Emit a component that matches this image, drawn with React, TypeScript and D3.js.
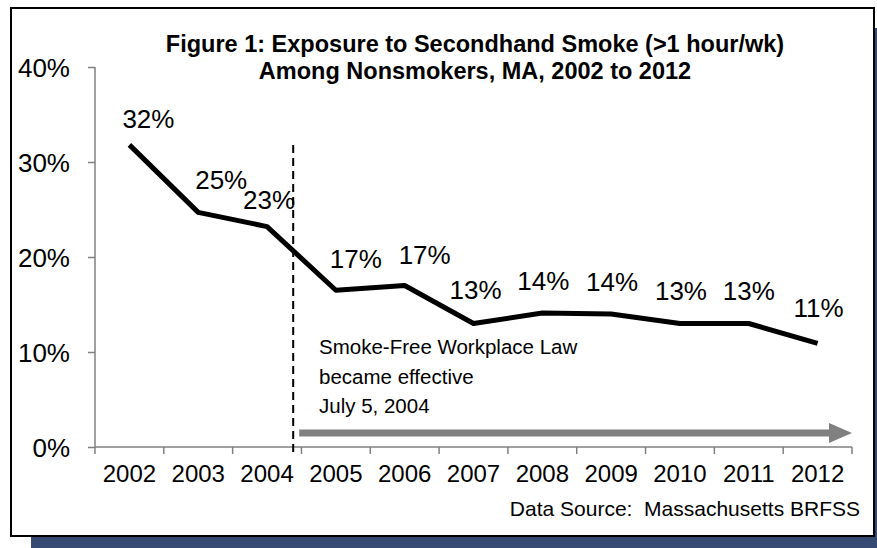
import React, { useEffect, useRef } from 'react';
import { select, scaleBand, scaleLinear, axisLeft, axisBottom, line, curveLinear } from 'd3';

const years = ['2002', '2003', '2004', '2005', '2006', '2007', '2008', '2009', '2010', '2011', '2012'];
const exposure = [31.8, 24.7, 23.2, 16.5, 17.0, 13.0, 14.1, 14.0, 13.0, 13.0, 10.9];
const pctTicks = [0, 10, 20, 30, 40];
const titleLines = ['Figure 1: Exposure to Secondhand Smoke (>1 hour/wk)', 'Among Nonsmokers, MA, 2002 to 2012'];
const noteLines = ['Smoke-Free Workplace Law', 'became effective', 'July 5, 2004'];
const sourceText = 'Data Source:  Massachusetts BRFSS';
const lawYear = '2004';

// label nudges (dx, dy) so the labels sit like in the excel original
const labelShift = [[19, -17], [23, -23], [2, -18], [20, -22], [20, -22], [2, -25], [1, -23], [1, -23], [1, -24], [0, -24], [1, -26]];

const W = 877;
const H = 548;
const FONT = '"Liberation Sans", Arial, sans-serif';

function App() {
  const svgRef = useRef<SVGSVGElement>(null);

  const x = scaleBand<string>().domain(years).range([95, 852]);
  const y = scaleLinear().domain([0, 40]).range([447, 67]);
  const lawX = (x(lawYear) as number) + x.bandwidth() * 0.88;

  useEffect(() => {
    const svg = select(svgRef.current);

    const yAxis = axisLeft(y).tickValues(pctTicks).tickSize(7).tickPadding(18).tickFormat((d) => d + '%');
    const gy = svg.select<SVGGElement>('.y-axis').attr('transform', 'translate(95,0)').call(yAxis);
    gy.select('.domain').attr('stroke', '#808080').attr('stroke-width', 1.5).attr('d', `M0,${y(0)}V${y(40)}`);
    gy.selectAll('.tick line').attr('stroke', '#808080').attr('stroke-width', 1.5);
    gy.selectAll('.tick text')
      .attr('font-family', FONT).attr('font-size', 26).attr('fill', '#000').attr('dy', '0.36em');

    const xAxis = axisBottom(x).tickSize(0).tickPadding(18);
    const gx = svg.select<SVGGElement>('.x-axis').attr('transform', `translate(0,${y(0)})`).call(xAxis);
    gx.select('.domain').attr('stroke', '#808080').attr('stroke-width', 1.5).attr('d', `M95,0H852`);
    gx.selectAll('.tick text').attr('font-family', FONT).attr('font-size', 24).attr('fill', '#000');
    gx.selectAll('.bound')
      .data([...years.map((d) => x(d) as number), 852])
      .join('line')
      .attr('class', 'bound')
      .attr('x1', (d) => d).attr('x2', (d) => d)
      .attr('y1', 0).attr('y2', 7)
      .attr('stroke', '#808080').attr('stroke-width', 1.5);

    const path = line<number>()
      .x((_, i) => (x(years[i]) as number) + x.bandwidth() / 2)
      .y((d) => y(d))
      .curve(curveLinear);
    svg.select('.series')
      .selectAll('path')
      .data([exposure])
      .join('path')
      .attr('d', path)
      .attr('fill', 'none')
      .attr('stroke', '#000')
      .attr('stroke-width', 5)
      .attr('stroke-linejoin', 'round');

    svg.select('.labels')
      .selectAll('text')
      .data(exposure)
      .join('text')
      .attr('x', (d, i) => (x(years[i]) as number) + x.bandwidth() / 2 + labelShift[i][0])
      .attr('y', (d, i) => y(d) + labelShift[i][1])
      .attr('text-anchor', 'middle')
      .attr('font-family', FONT)
      .attr('font-size', 26)
      .text((d) => Math.round(d) + '%');
  }, []);

  const arrowY = y(0) - 14;

  return (
    <svg ref={svgRef} width={W} height={H} style={{ position: 'absolute', left: 0, top: 0 }}>
      <rect x={31} y={28} width={W - 31} height={H - 28} fill="#374a74" />
      <rect x={11} y={8} width={863} height={528} fill="#fff" stroke="#000" strokeWidth={2} />

      <text textAnchor="middle" fontFamily={FONT} fontWeight="bold" fontSize={23.5}>
        {titleLines.map((t, i) => (
          <tspan key={i} x={475} y={52 + i * 27}>{t}</tspan>
        ))}
      </text>

      <g className="y-axis" />
      <g className="x-axis" />

      <line x1={lawX + 6} x2={852 - 22} y1={arrowY} y2={arrowY} stroke="#808080" strokeWidth={7} />
      <path d={`M${852 - 23},${arrowY - 10}L852,${arrowY}L${852 - 23},${arrowY + 10}Z`} fill="#808080" />

      <line x1={lawX} x2={lawX} y1={145} y2={455} stroke="#000" strokeWidth={2} strokeDasharray="8,5" />

      <g className="series" />
      <g className="labels" />

      <text fontFamily={FONT} fontSize={20.5}>
        {noteLines.map((t, i) => (
          <tspan key={i} x={319} y={354 + i * 29.5}>{t}</tspan>
        ))}
      </text>

      <text x={860} y={516} textAnchor="end" fontFamily={FONT} fontSize={21} style={{ whiteSpace: 'pre' }}>
        {sourceText}
      </text>
    </svg>
  );
}

export default App;
